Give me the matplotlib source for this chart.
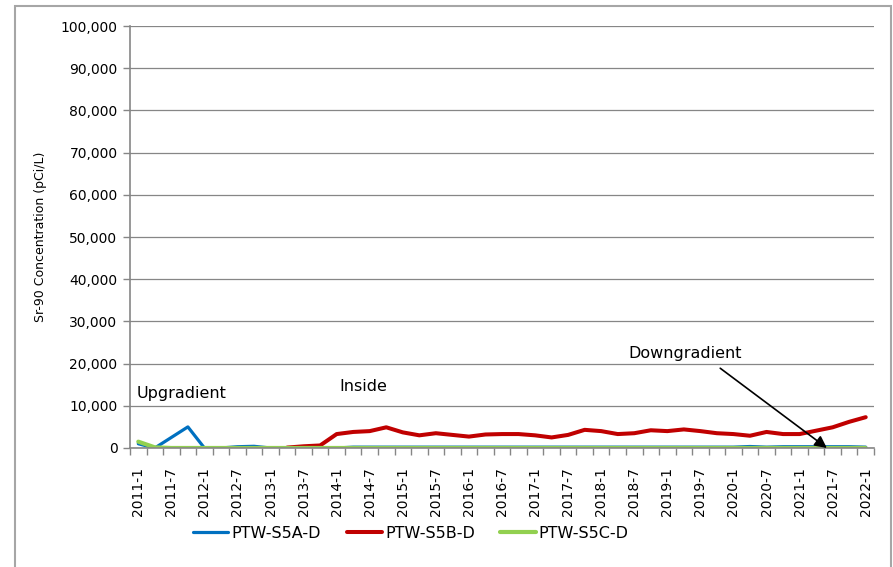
import numpy as np
import matplotlib
matplotlib.use('Agg')
import matplotlib.pyplot as plt
from matplotlib.patches import Rectangle

# quarterly sampling, 2011-1 .. 2022-1
years = list(range(2011, 2023))
months = [1, 4, 7, 10]
quarters = ['%d-%d' % (y, m) for y in years for m in months][:45]

s5a = [1000, 0, 2500, 5000, 0, 0, 300, 400, 0, 0, 0, 0, 0,
       200, 200, 200, 200, 200, 200, 200, 200, 200, 200, 200, 200, 200,
       200, 200, 200, 200, 200, 200, 200, 200, 200, 200, 200, 350, 200,
       300, 300, 300, 300, 300, 200]
s5b = [np.nan] * 9 + [
       100, 400, 600, 3300, 3800, 4000, 4900, 3700, 3000, 3500, 3100,
       2700, 3200, 3300, 3300, 3000, 2500, 3100, 4300, 4000, 3300, 3500,
       4200, 4000, 4400, 4000, 3500, 3300, 2900, 3800, 3300, 3300, 4100,
       4900, 6200, 7300]
s5c = [1500, 150] + [0] * 43

x = np.arange(len(quarters))

fig = plt.figure(figsize=(8.93, 5.67), dpi=100)
ax = fig.add_axes([0.1456, 0.2099, 0.9787 - 0.1456, 0.9541 - 0.2099])

# chart border
fig.patches.append(Rectangle((15 / 893, -0.01), (891 - 15) / 893, (567 - 6) / 567 + 0.01,
                             transform=fig.transFigure, fill=False,
                             edgecolor='#a6a6a6', linewidth=1.5))

ax.plot(x, s5a, color='#0070c0', lw=2.3, label='PTW-S5A-D', solid_capstyle='round')
ax.plot(x, s5b, color='#c00000', lw=2.9, label='PTW-S5B-D', solid_capstyle='round')
ax.plot(x, s5c, color='#92d050', lw=3.0, label='PTW-S5C-D', solid_capstyle='round')

ax.set_xlim(-0.5, len(quarters) - 0.5)
ax.set_ylim(0, 100000)
ax.set_yticks(np.arange(0, 100001, 10000))
ax.set_yticklabels(['{:,}'.format(v) for v in range(0, 100001, 10000)], fontsize=10)
ax.yaxis.grid(True, color='#868686', lw=0.9)
ax.set_axisbelow(True)

ax.set_xticks(x[::2])
ax.set_xticklabels(quarters[::2], rotation=90, fontsize=10)
ax.set_xticks(np.arange(-0.5, len(quarters), 1), minor=True)
ax.tick_params(axis='x', which='major', length=0, pad=14)
ax.tick_params(axis='x', which='minor', length=5, color='#868686', width=1)
ax.tick_params(axis='y', length=5, color='#868686', width=1, pad=4)

for s in ['top', 'right']:
    ax.spines[s].set_visible(False)
for s in ['left', 'bottom']:
    ax.spines[s].set_color('#868686')
    ax.spines[s].set_linewidth(1.2)

ax.set_ylabel('Sr-90 Concentration (pCi/L)', fontsize=9, labelpad=10)

ax.text(-0.1, 13000, 'Upgradient', fontsize=11.5, va='center', ha='left')
ax.text(13.6, 14500, 'Inside', fontsize=11.5, va='center', ha='center')
ax.text(33.1, 22500, 'Downgradient', fontsize=11.5, va='center', ha='center')
ax.annotate('', xy=(41.65, 0), xytext=(35.2, 18900),
            arrowprops=dict(arrowstyle='-|>', color='black', lw=1.2,
                            mutation_scale=18, shrinkA=0, shrinkB=0))

ax.legend(loc='center', bbox_to_anchor=(411 / 893, 1 - 533 / 567),
          bbox_transform=fig.transFigure, ncol=3, frameon=False,
          fontsize=11.5, handlelength=2.2, handletextpad=0.2, columnspacing=1.6)

fig.savefig('out.png', dpi=100)
